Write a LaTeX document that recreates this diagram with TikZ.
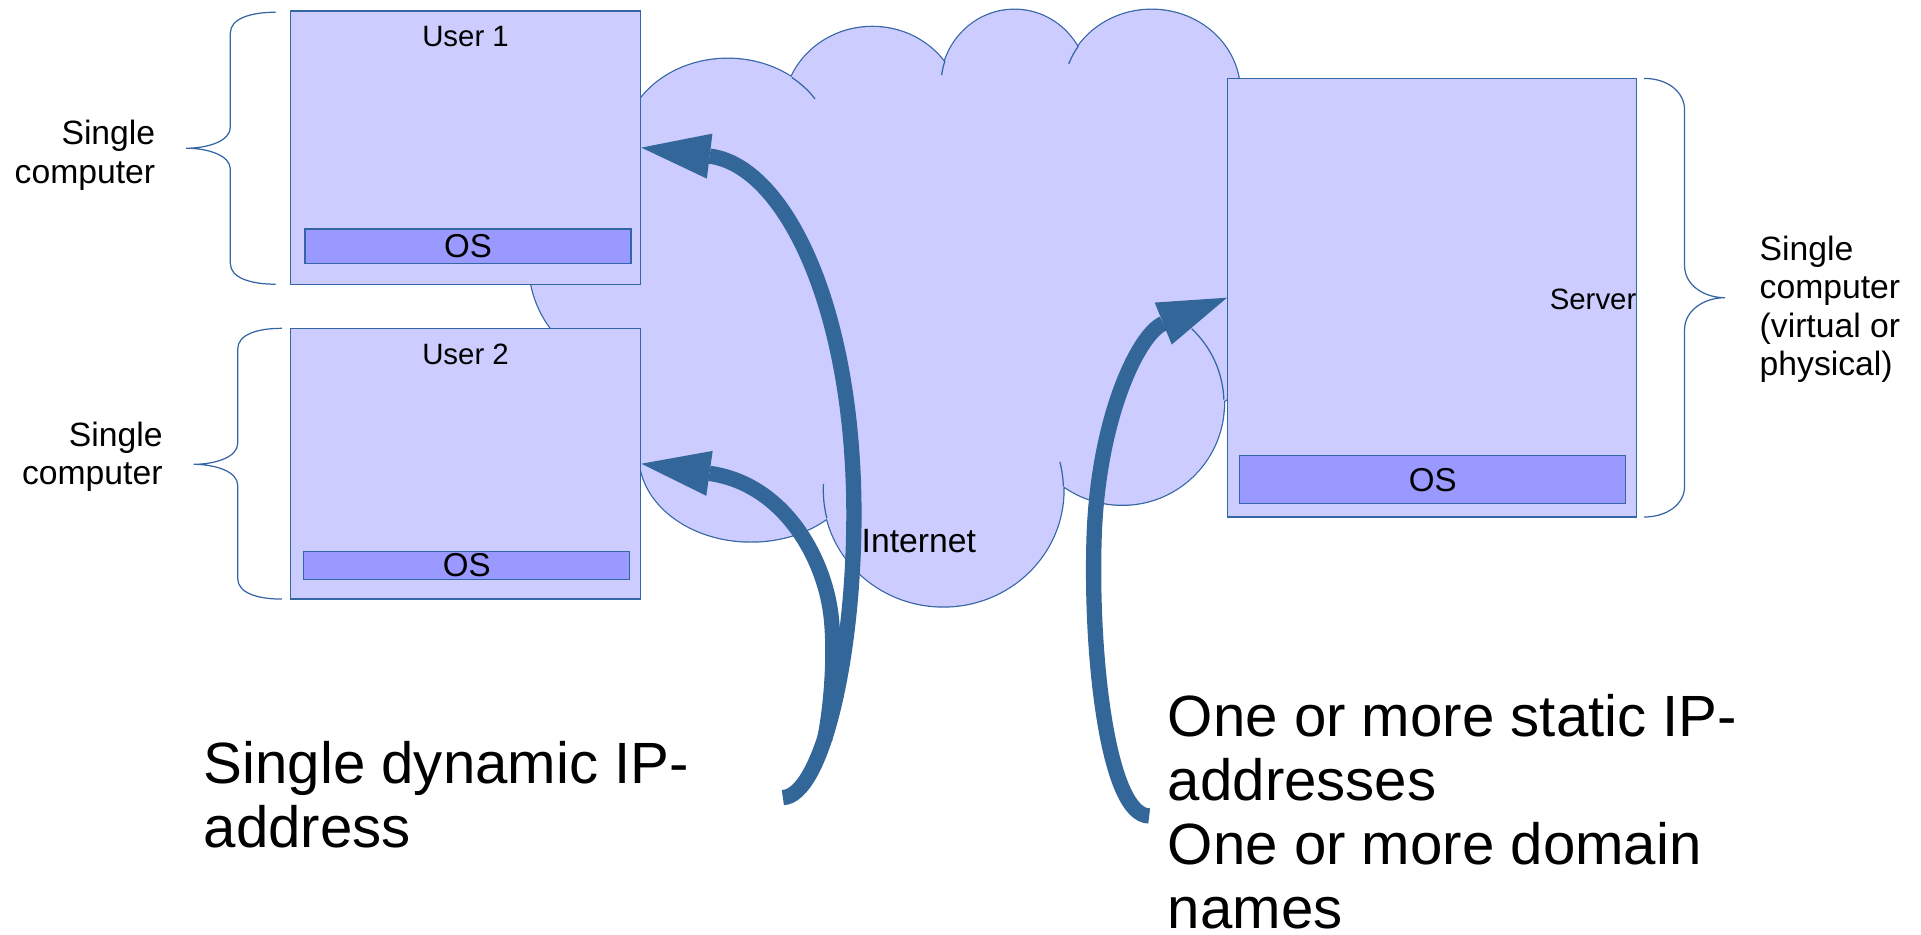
\documentclass[tikz,border=0pt]{standalone}
\usepackage{fontspec}
\setmainfont{Liberation Sans}
\usetikzlibrary{arrows.meta,fit}

\definecolor{lavender}{HTML}{CCCCFF}
\definecolor{osblue}{HTML}{9999FF}
\definecolor{edgeblue}{HTML}{3465A4}
\definecolor{arrowblue}{HTML}{336699}

\tikzset{
  computer/.style={draw=edgeblue, line width=0.6pt, fill=lavender, inner sep=0pt},
  osbar/.style={draw=edgeblue, line width=0.6pt, fill=osblue, inner sep=0pt},
  ostext/.style={inner sep=0pt, font=\fontsize{16.2pt}{19pt}\selectfont},
  tag/.style={inner sep=0pt, font=\fontsize{14.4pt}{17pt}\selectfont},
  note/.style={inner sep=0pt, font=\fontsize{16.5pt}{18.9pt}\selectfont},
  bignote/.style={inner sep=0pt, align=left, font=\fontsize{28.5pt}{31.4pt}\selectfont},
  curly/.style={draw=edgeblue, line width=0.6pt},
  cloudline/.style={draw=edgeblue, line width=0.6pt},
  flow/.style={draw=arrowblue, line width=7.5pt, -{Triangle[length=33.7pt, width=22.2pt, line width=0pt]}}
}

\begin{document}
\begin{tikzpicture}[x=0.6pt, y=-0.6pt]
    \useasboundingbox (0,0) rectangle (1568,763);

    % Draw cloud
    \def\cloudlobes{(520,215) circle [radius=88]
      (594,120) ellipse [x radius=85, y radius=72]
      (712,90) ellipse [x radius=72, y radius=68]
      (828,70) ellipse [x radius=60, y radius=62]
      (940,75) ellipse [x radius=72, y radius=67]
      (990,200) ellipse [x radius=45, y radius=130]
      (916,329) circle [radius=83]
      (770,400) ellipse [x radius=98, y radius=95]
      (613,372) ellipse [x radius=91, y radius=70]}
    \draw[edgeblue, line width=1.2pt] \cloudlobes;
    \fill[lavender] \cloudlobes;
    \fill[lavender] (560,150) -- (650,110) -- (760,100) -- (880,90) -- (960,140) -- (985,250)
      -- (960,300) -- (880,380) -- (770,400) -- (680,400) -- (540,400) -- (500,340) -- (500,200) -- cycle;
    \draw[cloudline] ([shift={(-52:85 and 72)}]594,120) arc[start angle=-52, end angle=-33, x radius=85, y radius=72];
    \draw[cloudline] ([shift={(188:60 and 62)}]828,70) arc[start angle=188, end angle=199, x radius=60, y radius=62];
    \draw[cloudline] ([shift={(200:72 and 67)}]940,75) arc[start angle=200, end angle=214, x radius=72, y radius=67];
    \draw[cloudline] ([shift={(-47:83)}]916,329) arc[start angle=-47, end angle=-2, radius=83];
    \draw[cloudline] ([shift={(-14:98 and 95)}]770,400) arc[start angle=-14, end angle=-2, x radius=98, y radius=95];
    \draw[cloudline] ([shift={(166:98 and 95)}]770,400) arc[start angle=166, end angle=183, x radius=98, y radius=95];
    \node[note, anchor=west] (internet) at (703,442) {Internet};

    % Draw computers
    \node[computer, fit={(237,9) (523,232)}] (user1) {};
    \node[osbar, fit={(249,187) (515,215)}] (os1) {};
    \node[ostext] at (os1.center) {OS};
    \node[tag] (user1name) at (380,30) {User 1};

    \node[computer, fit={(237,268) (523,489)}] (user2) {};
    \node[osbar, fit={(248,450) (514,473)}] (os2) {};
    \node[ostext] at (os2.center) {OS};
    \node[tag] (user2name) at (380,289) {User 2};

    \node[computer, fit={(1002,64) (1336,422)}] (server) {};
    \node[osbar, fit={(1012,372) (1327,411)}] (os3) {};
    \node[ostext] at (os3.center) {OS};
    \node[tag, anchor=east] (servername) at (1336,244) {Server};

    % Draw braces
    \draw[curly] (225,10) .. controls (205,10) and (188,15) .. (188,27) -- (188,104)
      .. controls (188,115) and (170,121) .. (152,121) .. controls (170,121) and (188,127) .. (188,138)
      -- (188,215) .. controls (188,227) and (205,232) .. (225,232);
    \draw[curly] (230,268) .. controls (210,268) and (194,273) .. (194,285) -- (194,362)
      .. controls (194,373) and (176,379) .. (158,379) .. controls (176,379) and (194,385) .. (194,396)
      -- (194,472) .. controls (194,484) and (210,489) .. (230,489);
    \draw[curly] (1342,64) .. controls (1360,64) and (1375,74) .. (1375,90) -- (1375,217)
      .. controls (1375,232) and (1390,243) .. (1408,243) .. controls (1390,243) and (1375,254) .. (1375,269)
      -- (1375,397) .. controls (1375,412) and (1360,422) .. (1342,422);

    \node[note, align=right, anchor=north east] (single1) at (127,98) {Single\\computer};
    \node[note, align=right, anchor=north east] (single2) at (133,344) {Single\\computer};
    \node[note, align=left, anchor=north west] (single3) at (1436,192) {Single\\computer\\(virtual or\\physical)};

    % Draw address notes
    \node[bignote, anchor=north west] (dynamic) at (166,605) {Single dynamic IP-\\address};
    \node[bignote, anchor=north west] (static) at (953,566) {One or more static IP-\\addresses\\One or more domain\\names};

    % Draw arrows
    \coordinate (dyntail) at (639,651);
    \coordinate (fork) at (673,604);
    \coordinate (statictail) at (938,666);
    \draw[flow] (dyntail) .. controls (670,650) and (697,540) .. (697,420)
      .. controls (697,250) and (640,135) .. (user1.east);
    \draw[flow] (fork) .. controls (679,575) and (682,530) .. (678,500)
      .. controls (672,455) and (640,395) .. (user2.east);
    \draw[flow] (statictail) .. controls (905,666) and (890,540) .. (893,440)
      .. controls (896,340) and (930,272) .. (server.west);
\end{tikzpicture}
\end{document}
